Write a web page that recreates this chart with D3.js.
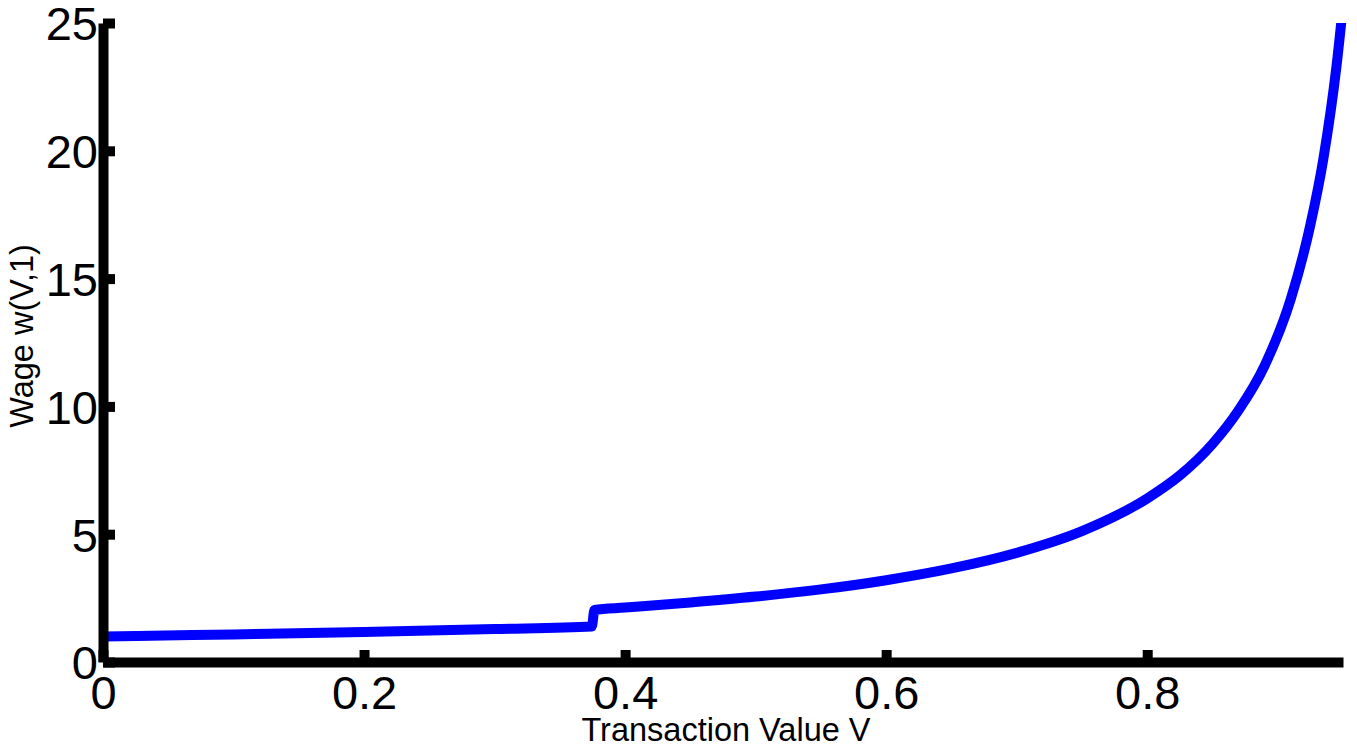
<!DOCTYPE html>
<html>
<head>
<meta charset="utf-8">
<script src="https://cdn.jsdelivr.net/npm/d3@7"></script>
<style>
  html, body { margin: 0; padding: 0; background: #fff; }
  svg { display: block; }
</style>
</head>
<body>
<svg id="chart" width="1357" height="747"></svg>
<script>
// ---- data ----
const transactionValue = [0, 0.1, 0.2, 0.3, 0.3745, 0.3765, 0.4, 0.45, 0.5, 0.55, 0.6, 0.65, 0.7, 0.75, 0.8, 0.825, 0.85, 0.87, 0.89, 0.91, 0.925, 0.935, 0.945, 0.952];
const wage             = [1.0, 1.08, 1.17, 1.29, 1.39, 2.04, 2.13, 2.33, 2.56, 2.84, 3.2, 3.66, 4.27, 5.12, 6.4, 7.3, 8.53, 9.85, 11.6, 14.2, 17.1, 19.7, 23.3, 26.7];
const xTickValues = [0, 0.2, 0.4, 0.6, 0.8];
const xTickLabels = ["0", "0.2", "0.4", "0.6", "0.8"];
const yTickValues = [0, 5, 10, 15, 20, 25];
const yTickLabels = ["0", "5", "10", "15", "20", "25"];
const xTitle = "Transaction Value V";
const yTitle = "Wage w(V,1)";

const svg = d3.select("#chart");
const mLeft = 103, mRight = 1343, mTop = 23, mBottom = 662;
const x = d3.scaleLinear().domain([0, 0.95]).range([mLeft, mRight]);
const y = d3.scaleLinear().domain([0, 25]).range([mBottom, mTop]);
const font = "'Liberation Sans', Arial, Helvetica, sans-serif";

// curve
const pts = transactionValue.map((v, i) => [v, wage[i]]);
svg.append("defs").append("clipPath").attr("id", "clip")
  .append("rect").attr("x", mLeft).attr("y", mTop).attr("width", mRight - mLeft + 8).attr("height", mBottom - mTop);
svg.append("path")
  .datum(pts)
  .attr("clip-path", "url(#clip)")
  .attr("fill", "none")
  .attr("stroke", "#0000ff")
  .attr("stroke-width", 10)
  .attr("stroke-linejoin", "round")
  .attr("d", d3.line().x(d => x(d[0])).y(d => y(d[1])).curve(d3.curveMonotoneX));

// axes
const xAxis = d3.axisBottom(x)
  .tickValues(xTickValues)
  .tickFormat((d, i) => xTickLabels[i])
  .tickSizeInner(-12).tickSizeOuter(0).tickPadding(14);
const yAxis = d3.axisLeft(y)
  .tickValues(yTickValues)
  .tickFormat((d, i) => yTickLabels[i])
  .tickSizeInner(-12).tickSizeOuter(0).tickPadding(5);

const gx = svg.append("g").attr("transform", `translate(0,${mBottom})`).call(xAxis);
const gy = svg.append("g").attr("transform", `translate(${mLeft},0)`).call(yAxis);

[gx, gy].forEach(g => {
  g.select(".domain").attr("stroke", "#000").attr("stroke-width", 10).attr("stroke-linecap", "butt");
  g.selectAll(".tick line").attr("stroke", "#000").attr("stroke-width", 10).attr("stroke-linecap", "butt");
  g.selectAll(".tick text").attr("fill", "#000").style("font-family", font).style("font-size", "47px");
});
gy.selectAll(".tick text").attr("dy", "0.36em");

// titles
svg.append("text")
  .attr("x", (mLeft + mRight) / 2 + 3).attr("y", 741)
  .attr("text-anchor", "middle")
  .style("font-family", font).style("font-size", "32.5px")
  .text(xTitle);
svg.append("text")
  .attr("transform", `translate(33,336) rotate(-90)`)
  .attr("text-anchor", "middle")
  .style("font-family", font).style("font-size", "32.5px")
  .text(yTitle);
</script>
</body>
</html>
